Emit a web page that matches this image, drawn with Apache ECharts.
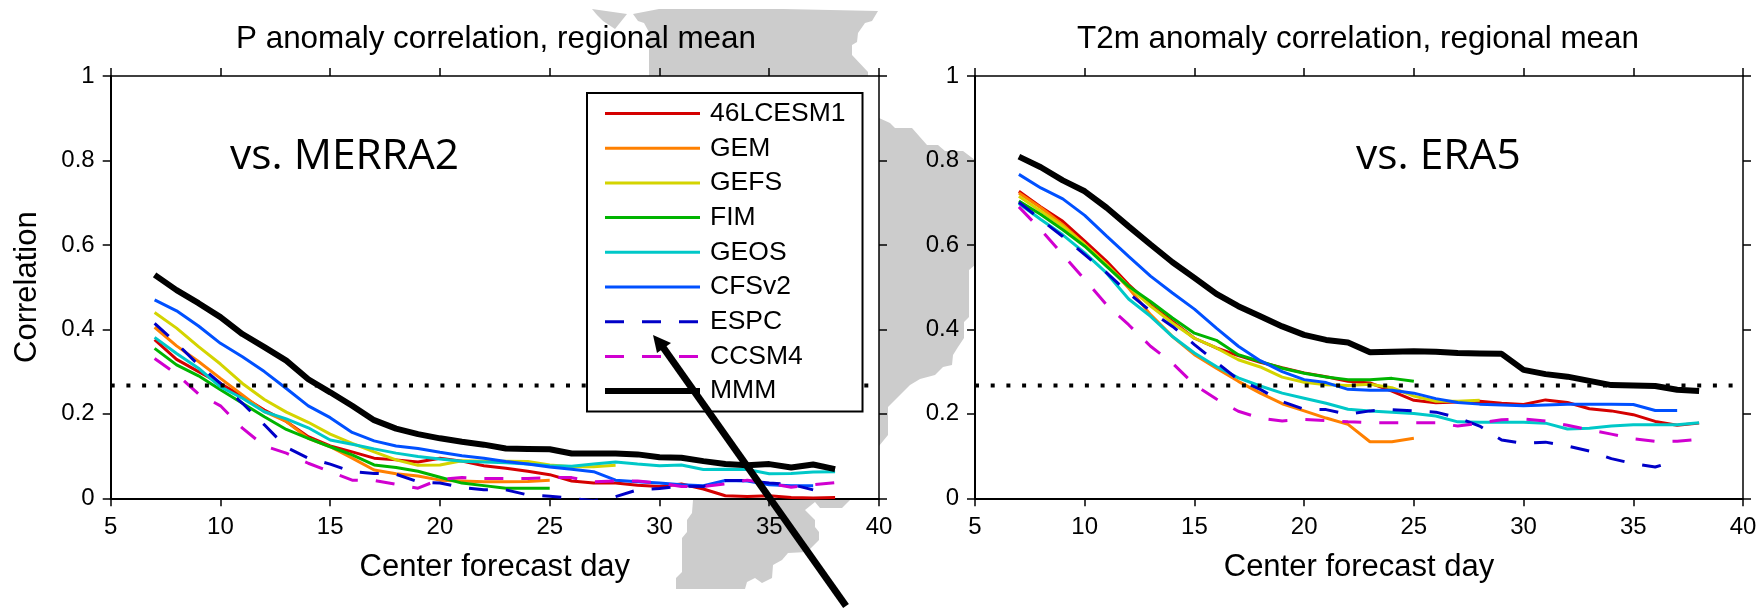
<!DOCTYPE html>
<html>
<head>
<meta charset="utf-8">
<style>
  html, body { margin: 0; padding: 0; background: #fff; }
  #chart { width: 1763px; height: 610px; }
</style>
<script src="https://cdn.jsdelivr.net/npm/echarts@6/dist/echarts.min.js"></script>
</head>
<body>
<div id="chart"></div>
<script>
const days = [7, 8, 9, 10, 11, 12, 13, 14, 15, 16, 17, 18, 19, 20, 21, 22, 23, 24, 25, 26, 27, 28, 29, 30, 31, 32, 33, 34, 35, 36, 37, 38];
const threshold = 0.267;
const modelNames = ['46LCESM1', 'GEM', 'GEFS', 'FIM', 'GEOS', 'CFSv2', 'ESPC', 'CCSM4', 'MMM'];

// P anomaly correlation vs. MERRA2
const p46L = [.376, .329, .30, .272, .241, .209, .182, .146, .124, .11, .095, .091, .086, .095, .088, .077, .071, .064, .056, .041, .036, .036, .031, .028, .034, .022, .006, .004, .006, .002, .001, .002];
const pGEM = [.405, .361, .324, .284, .245, .205, .182, .142, .122, .095, .067, .058, .053, .043, .041, .039, .039, .04, .043];
const pGEFS = [.44, .403, .359, .318, .272, .234, .204, .18, .152, .13, .11, .091, .078, .079, .089, .088, .088, .087, .079, .075, .075, .078];
const pFIM = [.355, .316, .29, .257, .225, .193, .163, .142, .122, .103, .079, .073, .064, .05, .036, .03, .024, .024, .024];
const pGEOS = [.381, .343, .308, .264, .237, .205, .188, .167, .138, .128, .117, .107, .099, .093, .088, .086, .084, .081, .077, .076, .081, .086, .081, .077, .079, .068, .069, .068, .058, .059, .062, .063];
const pCFS = [.47, .444, .408, .367, .335, .30, .26, .219, .191, .156, .136, .124, .118, .109, .101, .095, .087, .081, .074, .069, .063, .043, .039, .036, .032, .03, .042, .041, .032, .03, .03];
const pESPC = [.414, .367, .316, .272, .225, .174, .121, .095, .081, .063, .059, .057, .039, .036, .026, .02, .02, .008, .005, 0, -.006, .004, .02, .023, .029, .028, .042, .042, .036, .033, .02];
const pCCSM = [.331, .294, .247, .219, .166, .124, .107, .083, .063, .043, .042, .033, .024, .045, .049, .047, .047, .047, .049, .049, .039, .041, .041, .036, .028, .028, .034, .043, .036, .026, .032, .037];
const pMMM = [.529, .493, .462, .429, .389, .358, .326, .282, .251, .219, .185, .165, .152, .142, .134, .127, .118, .117, .116, .106, .106, .106, .104, .097, .096, .088, .081, .078, .081, .073, .08, .069];

// T2m anomaly correlation vs. ERA5
const t46L = [.727, .69, .656, .609, .561, .506, .458, .419, .379, .356, .338, .322, .309, .297, .288, .277, .273, .254, .232, .226, .228, .23, .225, .222, .233, .227, .212, .207, .198, .182, .173, .178];
const tGEM = [.723, .688, .648, .601, .553, .498, .435, .383, .34, .308, .277, .249, .224, .207, .19, .175, .134, .134, .142];
const tGEFS = [.715, .68, .644, .601, .553, .502, .455, .415, .379, .356, .328, .311, .287, .275, .269, .267, .27, .262, .242, .23, .23, .232];
const tFIM = [.704, .672, .636, .597, .549, .502, .466, .427, .391, .374, .34, .324, .308, .296, .287, .281, .281, .284, .277];
const tGEOS = [.698, .66, .624, .581, .533, .472, .431, .383, .344, .312, .285, .266, .249, .237, .225, .211, .207, .204, .201, .195, .181, .18, .18, .18, .178, .164, .166, .171, .174, .174, .174, .179];
const tCFS = [.767, .735, .709, .67, .621, .573, .526, .486, .448, .403, .36, .326, .30, .281, .274, .258, .256, .256, .249, .236, .227, .223, .221, .219, .221, .223, .223, .223, .222, .208, .208];
const tESPC = [.701, .66, .62, .577, .534, .486, .443, .407, .364, .322, .281, .258, .229, .211, .21, .199, .207, .21, .207, .204, .191, .171, .138, .13, .133, .124, .112, .094, .082, .074, .09];
const tCCSM = [.69, .636, .577, .518, .458, .411, .36, .32, .269, .235, .206, .19, .183, .187, .184, .181, .179, .179, .179, .179, .171, .178, .186, .188, .183, .173, .162, .152, .141, .135, .135, .14];
const tMMM = [.809, .784, .753, .727, .688, .644, .601, .559, .522, .484, .455, .431, .407, .387, .375, .369, .346, .347, .348, .347, .344, .343, .342, .304, .294, .288, .278, .268, .267, .266, .257, .254];

const colors = ['#d40000', '#ff8000', '#d4d400', '#00b400', '#00c8c8', '#0050ff', '#0000c8', '#d000d0', '#000000'];

// grey map scraps behind the plots, full-size pixels
const mapShapes = [
  [[592, 9], [627, 14], [615, 29], [603, 21], [597, 15]],
  [[633, 14], [659, 9], [783, 9], [878, 11], [872, 21], [865, 23], [858, 33], [857, 42], [852, 45], [852, 55], [868, 72], [868, 77], [649, 77], [649, 32], [644, 23], [638, 21]],
  [[879, 118], [890, 123], [895, 128], [912, 128], [927, 145], [938, 145], [945, 151], [963, 151], [975, 160], [975, 265], [969, 270], [969, 317], [964, 322], [964, 338], [958, 347], [953, 355], [952, 365], [943, 367], [935, 375], [920, 379], [910, 385], [888, 407], [888, 435], [879, 446]],
  [[693, 500], [850, 500], [842, 508], [820, 508], [815, 502], [805, 510], [815, 520], [815, 527], [819, 532], [819, 540], [807, 552], [788, 553], [782, 560], [773, 565], [772, 578], [762, 583], [755, 578], [747, 582], [745, 589], [676, 589], [676, 578], [682, 572], [682, 538], [687, 532], [687, 520], [692, 513]]
];

const font = 'Liberation Sans, Helvetica, Arial, sans-serif';

const pairs = vals => vals.map((v, i) => [days[i], v]);

const makeSeries = (vals, gridIdx) => {
  const list = vals.map((v, i) => {
    const dashed = i === 6 || i === 7;
    return {
      name: modelNames[i],
      type: 'line',
      xAxisIndex: gridIdx * 2,
      yAxisIndex: gridIdx * 2,
      data: pairs(v),
      symbol: 'none',
      z: 3 + i * 0.01,
      lineStyle: {
        color: colors[i],
        width: i === 8 ? 6 : 3,
        type: dashed ? [19, 18] : 'solid',
        cap: 'butt'
      },
      itemStyle: { color: colors[i] },
      silent: true
    };
  });
  list.push({
    name: 'threshold',
    type: 'line',
    xAxisIndex: gridIdx * 2,
    yAxisIndex: gridIdx * 2,
    data: [[5, threshold], [40, threshold]],
    symbol: 'none',
    z: 3.5,
    silent: true,
    lineStyle: { color: '#000', width: 4, type: [4, 11.7] }
  });
  return list;
};

const xBottom = (gridIndex, showName) => ({
  type: 'value', gridIndex, min: 5, max: 40, interval: 5, position: 'bottom',
  splitLine: { show: false },
  axisLine: { onZero: false, lineStyle: { color: '#000', width: 2 } },
  axisTick: { length: 8, lineStyle: { color: '#000', width: 1.5 } },
  axisLabel: { fontFamily: font, fontSize: 24, color: '#000', margin: 17 },
  name: showName, nameLocation: 'middle', nameGap: 54,
  nameTextStyle: { fontFamily: font, fontSize: 31, color: '#000' }
});
const xTop = gridIndex => ({
  type: 'value', gridIndex, min: 5, max: 40, interval: 5, position: 'top',
  splitLine: { show: false },
  axisLine: { onZero: false, lineStyle: { color: '#000', width: 1.5 } },
  axisTick: { length: 8, lineStyle: { color: '#000', width: 1.5 } },
  axisLabel: { show: false }
});
const yLeft = (gridIndex, showName) => ({
  type: 'value', gridIndex, min: 0, max: 1, interval: 0.2, position: 'left',
  splitLine: { show: false },
  axisLine: { onZero: false, lineStyle: { color: '#000', width: 2 } },
  axisTick: { length: 8, lineStyle: { color: '#000', width: 1.5 } },
  axisLabel: { fontFamily: font, fontSize: 24, color: '#000', margin: 16 },
  name: showName, nameLocation: 'middle', nameGap: 68,
  nameTextStyle: { fontFamily: font, fontSize: 31, color: '#000' }
});
const yRight = gridIndex => ({
  type: 'value', gridIndex, min: 0, max: 1, interval: 0.2, position: 'right',
  splitLine: { show: false },
  axisLine: { onZero: false, lineStyle: { color: '#000', width: 1.5 } },
  axisTick: { length: 8, lineStyle: { color: '#000', width: 1.5 } },
  axisLabel: { show: false }
});

const chart = echarts.init(document.getElementById('chart'), null, { renderer: 'canvas' });

const option = {
  animation: false,
  backgroundColor: '#fff',
  title: [
    { text: 'P anomaly correlation, regional mean', left: 491, top: 19, textAlign: 'center',
      textStyle: { fontFamily: font, fontSize: 31.4, fontWeight: 'normal', color: '#000' } },
    { text: 'T2m anomaly correlation, regional mean', left: 1353, top: 19, textAlign: 'center',
      textStyle: { fontFamily: font, fontSize: 31.4, fontWeight: 'normal', color: '#000' } }
  ],
  grid: [
    { left: 110.7, top: 76, width: 768.3, height: 422.3, show: true, backgroundColor: '#fff', borderWidth: 0 },
    { left: 975, top: 76, width: 768, height: 422.3, show: true, backgroundColor: '#fff', borderWidth: 0 }
  ],
  xAxis: [xBottom(0, 'Center forecast day'), xTop(0), xBottom(1, 'Center forecast day'), xTop(1)],
  yAxis: [yLeft(0, 'Correlation'), yRight(0), yLeft(1, ''), yRight(1)],
  legend: {
    orient: 'vertical',
    left: 587,
    top: 93,
    data: modelNames,
    backgroundColor: '#fff',
    borderColor: '#000',
    borderWidth: 2,
    borderRadius: 0,
    padding: [7, 17, 7, 15],
    itemWidth: 95,
    itemHeight: 26,
    itemGap: 7.7,
    selectedMode: false,
    itemStyle: { opacity: 0 },
    lineStyle: { width: 'inherit' },
    textStyle: { fontFamily: font, fontSize: 26.5, color: '#000', padding: [0, 0, 0, 5] },
    z: 10
  },
  series: [
    ...makeSeries([p46L, pGEM, pGEFS, pFIM, pGEOS, pCFS, pESPC, pCCSM, pMMM], 0),
    ...makeSeries([t46L, tGEM, tGEFS, tFIM, tGEOS, tCFS, tESPC, tCCSM, tMMM], 1)
  ],
  graphic: [
    ...mapShapes.map(points => ({
      type: 'polygon', z: -10, silent: true,
      shape: { points },
      style: { fill: '#cccccc' }
    })),
    { type: 'text', z: 50, left: 230, top: 135, silent: true,
      style: { text: 'vs. MERRA2', fill: '#000', font: '42.5px "Open Sans", sans-serif' } },
    { type: 'text', z: 50, left: 1356, top: 135, silent: true,
      style: { text: 'vs. ERA5', fill: '#000', font: '42.5px "Open Sans", sans-serif' } },
    { type: 'line', z: 60, silent: true,
      shape: { x1: 846, y1: 606, x2: 660, y2: 343 },
      style: { stroke: '#000', lineWidth: 7 } },
    { type: 'polygon', z: 60, silent: true,
      shape: { points: [[653, 335], [671, 343], [657, 353]] },
      style: { fill: '#000' } }
  ]
};

chart.setOption(option);
</script>
</body>
</html>
